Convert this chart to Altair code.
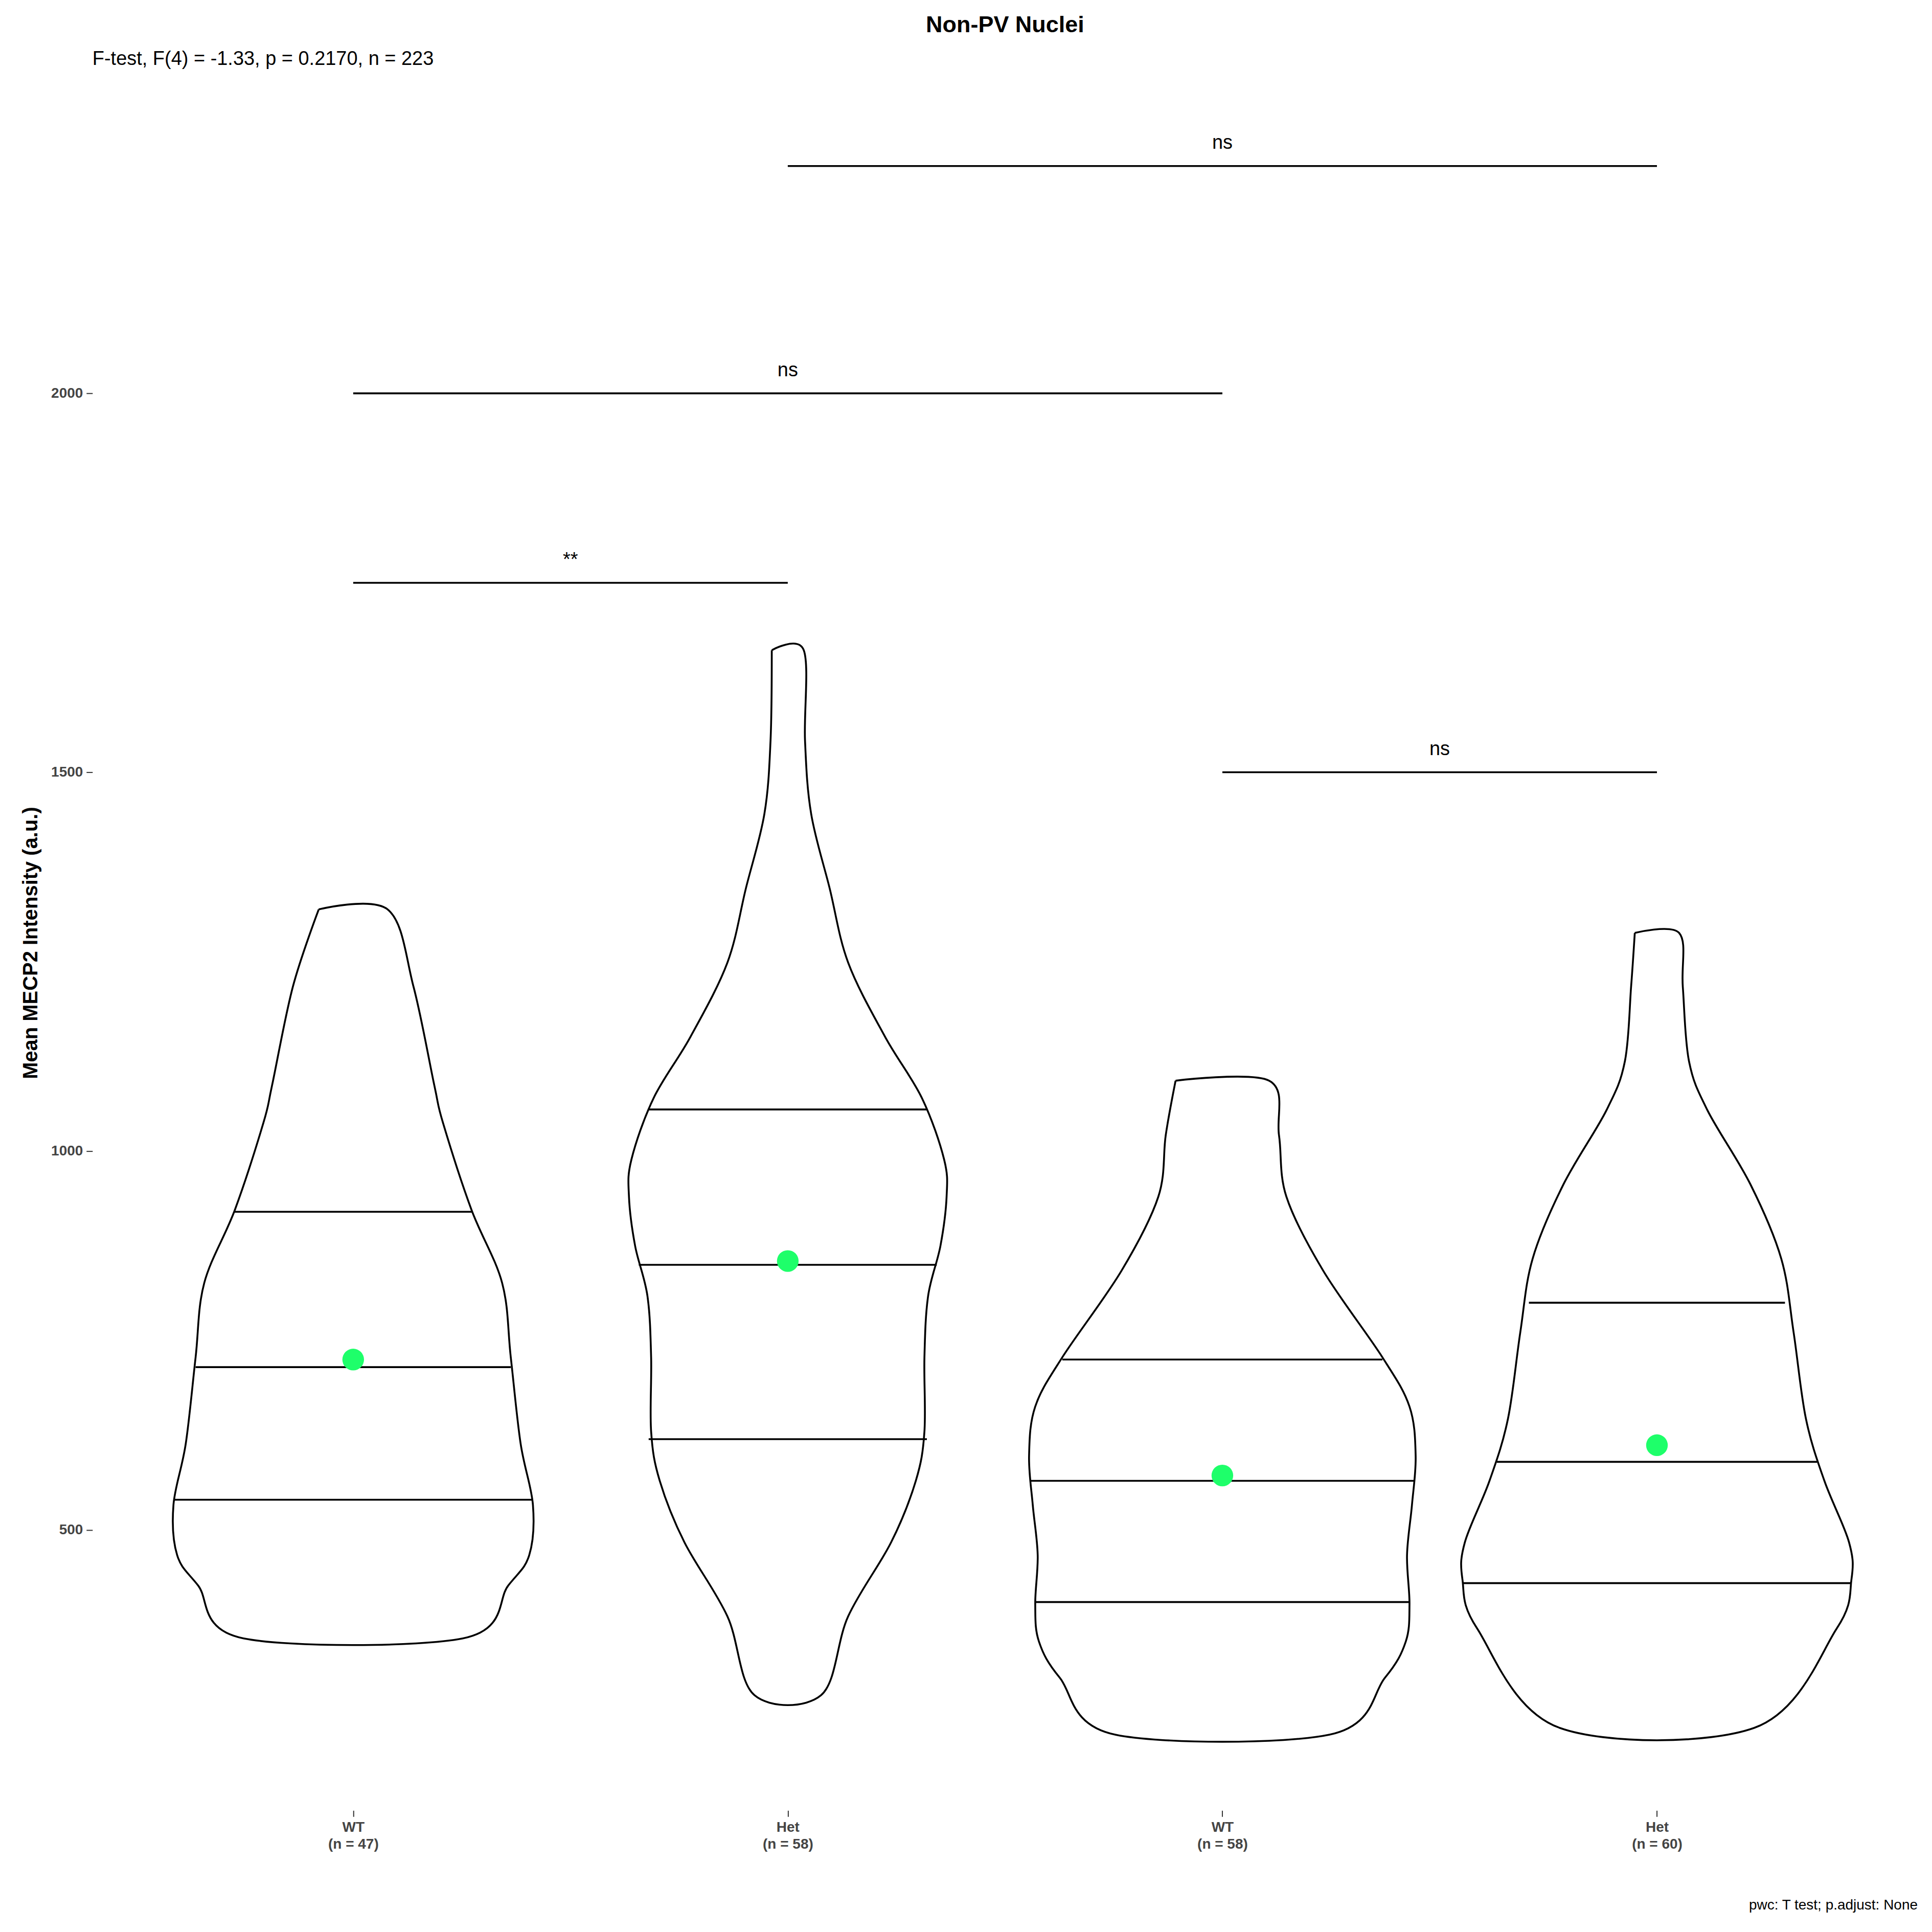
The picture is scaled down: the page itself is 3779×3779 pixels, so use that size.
import pandas as pd
import altair as alt

S = 2.41  # reference drawn at ~1568px, target is 3779px

groups = [1, 2, 3, 4]
group_names = ["WT", "Het", "WT", "Het"]
group_n = ["(n = 47)", "(n = 58)", "(n = 58)", "(n = 60)"]

# violin outlines from top to bottom: value -> half width (reference px)
v_values = [
    [1319, 1217, 1086, 1037, 923, 826, 728, 614, 533, 467, 427, 357],
    [1661, 1542, 1445, 1347, 1249, 1151, 1070, 989, 940, 875, 809, 728, 630, 565, 484, 386, 282],
    [1093, 1021, 940, 842, 728, 663, 598, 533, 467, 402, 353, 305, 230],
    [1288, 1217, 1119, 1054, 956, 858, 761, 647, 565, 484, 435, 370, 239],
]
v_halfw = [
    [28, 49, 66, 73, 96, 121, 128, 136, 146, 143, 126, 89],
    [13, 14, 19, 34, 49, 79, 109, 127, 129, 124, 114, 111, 111, 104, 84, 49, 27],
    [38, 46, 52, 82, 130, 152, 157, 154, 150, 152, 149, 132, 87],
    [18, 21, 26, 41, 76, 101, 111, 121, 136, 156, 158, 146, 79],
]
# quartile lines (value, half width)
q_values = [[920, 715, 540], [1055, 850, 620], [725, 565, 405], [800, 590, 430]]
q_halfw = [[97, 128, 146], [113, 121, 113], [130, 156, 152], [104, 130, 158]]
means = [725, 855, 572, 612]

# pairwise comparison brackets
br_from = [2, 1, 1, 3]
br_to = [4, 3, 2, 4]
br_y = [2300, 2000, 1750, 1500]
br_label = ["ns", "ns", "**", "ns"]

UNIT = 353.0  # px per category in reference

# closed outline path: down the left side, up the right side, back to start
rows = []
for g, vals, hws in zip(groups, v_values, v_halfw):
    pts = [(g - h / UNIT, v) for v, h in zip(vals, hws)]
    pts += [(g + h / UNIT, v) for v, h in reversed(list(zip(vals, hws)))]
    pts.append(pts[0])
    for i, (x, y) in enumerate(pts):
        rows.append({"g": g, "seq": i, "x": x, "y": y})
vdf = pd.DataFrame(rows)

qrows = []
for g, vals, hws in zip(groups, q_values, q_halfw):
    for v, h in zip(vals, hws):
        qrows.append({"g": g, "y": v, "x1": g - h / UNIT, "x2": g + h / UNIT})
qdf = pd.DataFrame(qrows)

mdf = pd.DataFrame({"g": groups, "mean": means})
bdf = pd.DataFrame({"x1": br_from, "x2": br_to, "y": br_y, "label": br_label})
bdf["xm"] = (bdf["x1"] + bdf["x2"]) / 2
bdf["ty"] = bdf["y"] + 30

label_expr = " : ".join(
    "datum.value == %d ? ['%s', '%s']" % (g, a, b) for g, a, b in zip(groups, group_names, group_n)
) + " : ''"

FONT = "Liberation Sans"
xs = alt.Scale(domain=[0.4, 4.6], nice=False, zero=False)
ys = alt.Scale(domain=[130, 2420], nice=False, zero=False)

x_axis = alt.Axis(values=groups, labelExpr=label_expr, title=None, domain=False, grid=False,
                  tickSize=int(5 * S), tickWidth=2, tickColor="#333333", labelFont=FONT,
                  labelFontSize=int(12 * S), labelFontWeight="bold", labelColor="#444444",
                  labelPadding=int(3 * S), labelLineHeight=int(14 * S))
y_axis = alt.Axis(values=[500, 1000, 1500, 2000], format="d", title="Mean MECP2 Intensity (a.u.)",
                  domain=False, grid=False, tickSize=int(5 * S), tickWidth=2, tickColor="#333333",
                  labelFont=FONT, labelFontSize=int(12 * S), labelFontWeight="bold",
                  labelColor="#444444", labelPadding=int(3 * S), titleFont=FONT,
                  titleFontSize=int(17 * S), titleFontWeight="bold", titlePadding=int(8 * S),
                  titleColor="black")

violin = alt.Chart(vdf).mark_line(interpolate="cardinal", color="black",
                                  strokeWidth=1.5 * S).encode(
    y=alt.Y("y:Q", scale=ys, axis=y_axis),
    x=alt.X("x:Q", scale=xs, axis=x_axis),
    detail="g:N",
    order=alt.Order("seq:Q"),
)

quart = alt.Chart(qdf).mark_rule(color="black", strokeWidth=1.5 * S).encode(
    x=alt.X("x1:Q", scale=xs), x2="x2:Q", y=alt.Y("y:Q", scale=ys))

mean_pts = alt.Chart(mdf).mark_circle(color="#1eff6a", opacity=1, size=1800).encode(
    x=alt.X("g:Q", scale=xs), y=alt.Y("mean:Q", scale=ys))

brackets = alt.Chart(bdf).mark_rule(color="black", strokeWidth=1.5 * S).encode(
    x=alt.X("x1:Q", scale=xs), x2="x2:Q", y=alt.Y("y:Q", scale=ys))

br_text = alt.Chart(bdf).mark_text(font=FONT, fontSize=int(16 * S), baseline="middle",
                                   color="black").encode(
    x=alt.X("xm:Q", scale=xs), y=alt.Y("ty:Q", scale=ys), text="label:N")

subtitle = alt.Chart(pd.DataFrame({"t": ["F-test, F(4) = -1.33, p = 0.2170, n = 223"]})).mark_text(
    font=FONT, fontSize=int(16 * S), align="left", baseline="middle", color="black").encode(
    x=alt.value(0), y=alt.value(-31), text="t:N")

caption = alt.Chart(pd.DataFrame({"t": ["pwc: T test; p.adjust: None"]})).mark_text(
    font=FONT, fontSize=int(12 * S), align="right", baseline="middle", color="black").encode(
    x=alt.value(3574), y=alt.value(3584), text="t:N")

chart = (violin + quart + mean_pts + brackets + br_text + subtitle + caption).properties(
    width=3574, height=3398,
    background="white",
    autosize=alt.AutoSizeParams(type="none"),
    padding={"left": 173, "top": 137, "right": 20, "bottom": 250},
    title=alt.TitleParams("Non-PV Nuclei", font=FONT, fontSize=int(19 * S), fontWeight="bold",
                          anchor="middle", offset=25, color="black"),
).configure_view(stroke=None)

chart.save("out.html", embed_options={"renderer": "svg", "actions": False})
